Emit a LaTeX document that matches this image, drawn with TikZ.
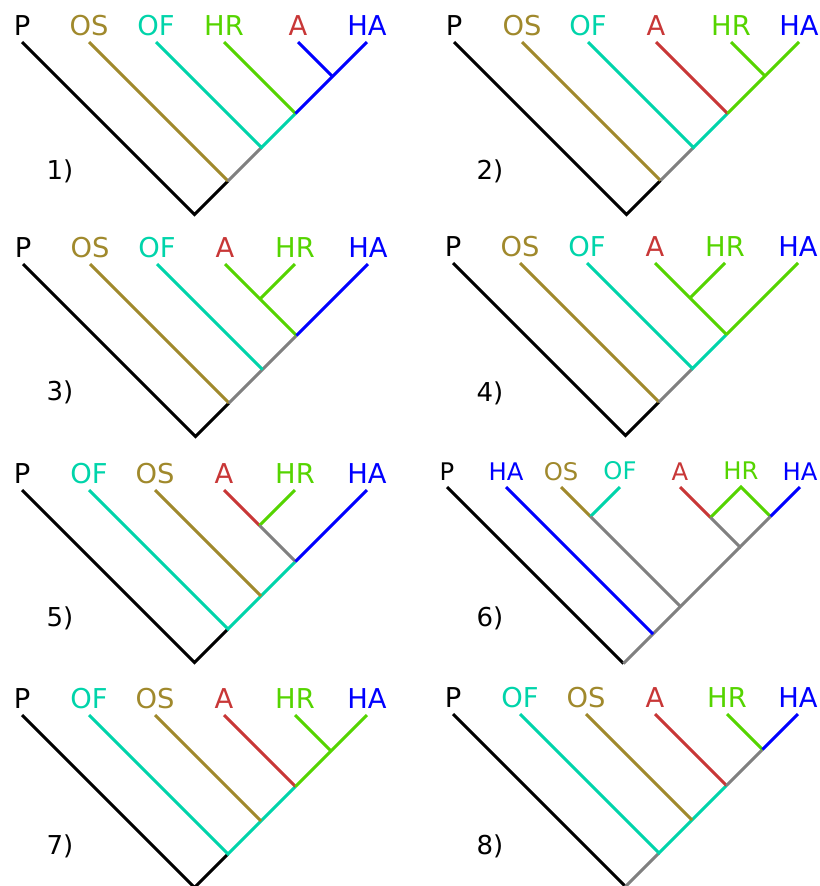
\documentclass[tikz,border=0pt]{standalone}
\usepackage{fontspec}
\setmainfont{DejaVu Sans}
\usetikzlibrary{calc}
\definecolor{cOS}{HTML}{A0892C}
\definecolor{cOF}{HTML}{00D4AA}
\definecolor{cHR}{HTML}{55D400}
\definecolor{cA}{HTML}{C83737}
\definecolor{cHA}{HTML}{0000FF}
\definecolor{cG}{HTML}{808080}
\newcommand{\jn}[3]{\coordinate (#1) at ({(#2+#3)/2},{(#3-#2)/2});}
\begin{document}
\begin{tikzpicture}[x=0.75pt,y=-0.75pt,
  br/.style={line width=2.25pt},
  lab/.style={inner sep=0pt,anchor=base,font=\fontsize{20.5}{22}\selectfont},
  slab/.style={inner sep=0pt,anchor=base,font=\fontsize{18.2}{20}\selectfont},
  num/.style={inner sep=0pt,font=\fontsize{19.5}{21}\selectfont}]
\useasboundingbox (0,0) rectangle (820,886);

% ---------- Panel 1 ----------
\begin{scope}[shift={(22,42)}]
\coordinate (aP) at (0,0); \coordinate (aOS) at (67,0); \coordinate (aOF) at (134,0);
\coordinate (aHR) at (202,0); \coordinate (aA) at (276,0); \coordinate (aHA) at (345,0);
\jn{aR}{0}{345} \jn{aJ1}{67}{345} \jn{aJ2}{134}{345} \jn{aJ3}{202}{345} \jn{aJ4}{276}{345}
\node[lab,text=black] (aPl) at (0,-7) {P};
\node[lab,text=cOS] (aOSl) at (67,-7) {OS};
\node[lab,text=cOF] (aOFl) at (134,-7) {OF};
\node[lab,text=cHR] (aHRl) at (202,-7) {HR};
\node[lab,text=cA] (aAl) at (276,-7) {A};
\node[lab,text=cHA] (aHAl) at (345,-7) {HA};
\draw[br,black] (aP) -- (aR) -- (aJ1);
\draw[br,cOS] (aOS) -- (aJ1);
\draw[br,cG] (aJ1) -- (aJ2);
\draw[br,cOF] (aOF) -- (aJ2) -- (aJ3);
\draw[br,cHR] (aHR) -- (aJ3);
\draw[br,cHA] (aJ3) -- (aJ4) -- (aHA);
\draw[br,cHA] (aA) -- (aJ4);
\end{scope}
\node[num] (n1) at (60,171) {1)};

% ---------- Panel 2 ----------
\begin{scope}[shift={(454,42)}]
\coordinate (bP) at (0,0); \coordinate (bOS) at (68,0); \coordinate (bOF) at (134,0);
\coordinate (bA) at (202,0); \coordinate (bHR) at (277,0); \coordinate (bHA) at (345,0);
\jn{bR}{0}{345} \jn{bJ1}{68}{345} \jn{bJ2}{134}{345} \jn{bJ3}{202}{345} \jn{bJ4}{277}{345}
\node[lab,text=black] (bPl) at (0,-7) {P};
\node[lab,text=cOS] (bOSl) at (68,-7) {OS};
\node[lab,text=cOF] (bOFl) at (134,-7) {OF};
\node[lab,text=cA] (bAl) at (202,-7) {A};
\node[lab,text=cHR] (bHRl) at (277,-7) {HR};
\node[lab,text=cHA] (bHAl) at (345,-7) {HA};
\draw[br,black] (bP) -- (bR) -- (bJ1);
\draw[br,cOS] (bOS) -- (bJ1);
\draw[br,cG] (bJ1) -- (bJ2);
\draw[br,cOF] (bOF) -- (bJ2) -- (bJ3);
\draw[br,cA] (bA) -- (bJ3);
\draw[br,cHR] (bJ3) -- (bJ4) -- (bHA);
\draw[br,cHR] (bHR) -- (bJ4);
\end{scope}
\node[num] (n2) at (490,171) {2)};

% ---------- Panel 3 ----------
\begin{scope}[shift={(23,264)}]
\coordinate (cP) at (0,0); \coordinate (cOS) at (67,0); \coordinate (cOF) at (134,0);
\coordinate (cA) at (202,0); \coordinate (cHR) at (272,0); \coordinate (cHA) at (345,0);
\jn{cR}{0}{345} \jn{cJ1}{67}{345} \jn{cJ2}{134}{345} \jn{cJ3}{202}{345} \jn{cK}{202}{272}
\node[lab,text=black] (cPl) at (0,-7) {P};
\node[lab,text=cOS] (cOSl) at (67,-7) {OS};
\node[lab,text=cOF] (cOFl) at (134,-7) {OF};
\node[lab,text=cA] (cAl) at (202,-7) {A};
\node[lab,text=cHR] (cHRl) at (272,-7) {HR};
\node[lab,text=cHA] (cHAl) at (345,-7) {HA};
\draw[br,black] (cP) -- (cR) -- (cJ1);
\draw[br,cOS] (cOS) -- (cJ1);
\draw[br,cG] (cJ1) -- (cJ2) -- (cJ3);
\draw[br,cOF] (cOF) -- (cJ2);
\draw[br,cHR] (cA) -- (cK) -- (cJ3);
\draw[br,cHR] (cHR) -- (cK);
\draw[br,cHA] (cHA) -- (cJ3);
\end{scope}
\node[num] (n3) at (60,392) {3)};

% ---------- Panel 4 ----------
\begin{scope}[shift={(453,263)}]
\coordinate (dP) at (0,0); \coordinate (dOS) at (67,0); \coordinate (dOF) at (134,0);
\coordinate (dA) at (202,0); \coordinate (dHR) at (272,0); \coordinate (dHA) at (345,0);
\jn{dR}{0}{345} \jn{dJ1}{67}{345} \jn{dJ2}{134}{345} \jn{dJ3}{202}{345} \jn{dK}{202}{272}
\node[lab,text=black] (dPl) at (0,-7) {P};
\node[lab,text=cOS] (dOSl) at (67,-7) {OS};
\node[lab,text=cOF] (dOFl) at (134,-7) {OF};
\node[lab,text=cA] (dAl) at (202,-7) {A};
\node[lab,text=cHR] (dHRl) at (272,-7) {HR};
\node[lab,text=cHA] (dHAl) at (345,-7) {HA};
\draw[br,black] (dP) -- (dR) -- (dJ1);
\draw[br,cOS] (dOS) -- (dJ1);
\draw[br,cG] (dJ1) -- (dJ2);
\draw[br,cOF] (dOF) -- (dJ2) -- (dJ3);
\draw[br,cHR] (dA) -- (dK) -- (dJ3);
\draw[br,cHR] (dHR) -- (dK);
\draw[br,cHR] (dHA) -- (dJ3);
\end{scope}
\node[num] (n4) at (490,393) {4)};

% ---------- Panel 5 ----------
\begin{scope}[shift={(22,490)}]
\coordinate (eP) at (0,0); \coordinate (eOF) at (67,0); \coordinate (eOS) at (133,0);
\coordinate (eA) at (202,0); \coordinate (eHR) at (273,0); \coordinate (eHA) at (345,0);
\jn{eR}{0}{345} \jn{eJ1}{67}{345} \jn{eJ2}{133}{345} \jn{eJ3}{202}{345} \jn{eK}{202}{273}
\node[lab,text=black] (ePl) at (0,-7) {P};
\node[lab,text=cOF] (eOFl) at (67,-7) {OF};
\node[lab,text=cOS] (eOSl) at (133,-7) {OS};
\node[lab,text=cA] (eAl) at (202,-7) {A};
\node[lab,text=cHR] (eHRl) at (273,-7) {HR};
\node[lab,text=cHA] (eHAl) at (345,-7) {HA};
\draw[br,black] (eP) -- (eR) -- (eJ1);
\draw[br,cOF] (eOF) -- (eJ1) -- (eJ2) -- (eJ3);
\draw[br,cOS] (eOS) -- (eJ2);
\draw[br,cA] (eA) -- (eK);
\draw[br,cHR] (eHR) -- (eK);
\draw[br,cG] (eK) -- (eJ3);
\draw[br,cHA] (eHA) -- (eJ3);
\end{scope}
\node[num] (n5) at (60,618) {5)};

% ---------- Panel 6 ----------
\begin{scope}[shift={(447,487)}]
\coordinate (fP) at (0,0); \coordinate (fHA1) at (59,0); \coordinate (fOS) at (114,0);
\coordinate (fOF) at (173,0); \coordinate (fA) at (233,0); \coordinate (fHR) at (294,0);
\coordinate (fHA2) at (353,0);
\jn{fR}{0}{353} \jn{fJ1}{59}{353} \jn{fJ2}{114}{353} \jn{fK}{114}{173}
\jn{fM}{233}{353} \jn{fN1}{233}{294} \jn{fN2}{294}{353}
\node[slab,text=black] (fPl) at (0,-7) {P};
\node[slab,text=cHA] (fHA1l) at (59,-7) {HA};
\node[slab,text=cOS] (fOSl) at (114,-7) {OS};
\node[slab,text=cOF] (fOFl) at (173,-8) {OF};
\node[slab,text=cA] (fAl) at (233,-7) {A};
\node[slab,text=cHR] (fHRl) at (294,-8) {HR};
\node[slab,text=cHA] (fHA2l) at (353,-7) {HA};
\draw[br,black] (fP) -- (fR);
\draw[br,cG] (fR) -- (fJ1) -- (fJ2) -- (fM);
\draw[br,cHA] (fHA1) -- (fJ1);
\draw[br,cOS] (fOS) -- (fK);
\draw[br,cOF] (fOF) -- (fK);
\draw[br,cG] (fK) -- (fJ2);
\draw[br,cA] (fA) -- (fN1);
\draw[br,cHR] (fN1) -- (fHR) -- (fN2);
\draw[br,cHA] (fHA2) -- (fN2);
\draw[br,cG] (fN1) -- (fM) -- (fN2);
\end{scope}
\node[num] (n6) at (490,618) {6)};

% ---------- Panel 7 ----------
\begin{scope}[shift={(22,715)}]
\coordinate (gP) at (0,0); \coordinate (gOF) at (67,0); \coordinate (gOS) at (133,0);
\coordinate (gA) at (202,0); \coordinate (gHR) at (273,0); \coordinate (gHA) at (345,0);
\jn{gR}{0}{345} \jn{gJ1}{67}{345} \jn{gJ2}{133}{345} \jn{gJ3}{202}{345} \jn{gK}{273}{345}
\node[lab,text=black] (gPl) at (0,-7) {P};
\node[lab,text=cOF] (gOFl) at (67,-7) {OF};
\node[lab,text=cOS] (gOSl) at (133,-7) {OS};
\node[lab,text=cA] (gAl) at (202,-7) {A};
\node[lab,text=cHR] (gHRl) at (273,-7) {HR};
\node[lab,text=cHA] (gHAl) at (345,-7) {HA};
\draw[br,black] (gP) -- (gR) -- (gJ1);
\draw[br,cOF] (gOF) -- (gJ1) -- (gJ2) -- (gJ3);
\draw[br,cOS] (gOS) -- (gJ2);
\draw[br,cA] (gA) -- (gJ3);
\draw[br,cHR] (gHR) -- (gK);
\draw[br,cHR] (gHA) -- (gK) -- (gJ3);
\end{scope}
\node[num] (n7) at (60,846) {7)};

% ---------- Panel 8 ----------
\begin{scope}[shift={(453,714)}]
\coordinate (hP) at (0,0); \coordinate (hOF) at (67,0); \coordinate (hOS) at (133,0);
\coordinate (hA) at (202,0); \coordinate (hHR) at (274,0); \coordinate (hHA) at (345,0);
\jn{hR}{0}{345} \jn{hJ1}{67}{345} \jn{hJ2}{133}{345} \jn{hJ3}{202}{345} \jn{hK}{274}{345}
\node[lab,text=black] (hPl) at (0,-7) {P};
\node[lab,text=cOF] (hOFl) at (67,-7) {OF};
\node[lab,text=cOS] (hOSl) at (133,-7) {OS};
\node[lab,text=cA] (hAl) at (202,-7) {A};
\node[lab,text=cHR] (hHRl) at (274,-7) {HR};
\node[lab,text=cHA] (hHAl) at (345,-7) {HA};
\draw[br,black] (hP) -- (hR);
\draw[br,cG] (hR) -- (hJ1);
\draw[br,cOF] (hOF) -- (hJ1) -- (hJ2) -- (hJ3);
\draw[br,cOS] (hOS) -- (hJ2);
\draw[br,cA] (hA) -- (hJ3);
\draw[br,cG] (hJ3) -- (hK);
\draw[br,cHR] (hHR) -- (hK);
\draw[br,cHA] (hHA) -- (hK);
\end{scope}
\node[num] (n8) at (490,846) {8)};
\end{tikzpicture}
\end{document}
